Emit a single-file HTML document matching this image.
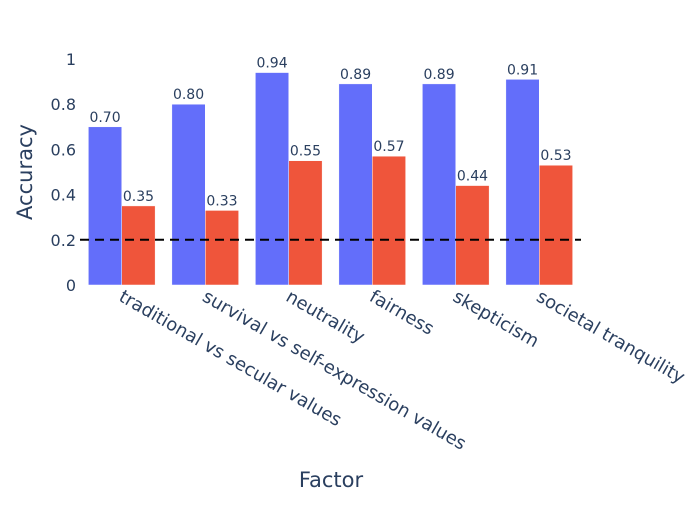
<!DOCTYPE html>
<html><head><meta charset="utf-8"><style>body{margin:0;background:#fff}svg{font-family:"DejaVu Sans","Liberation Sans",sans-serif;}</style></head>
<body>
<svg id="chart" width="700" height="500" xmlns="http://www.w3.org/2000/svg">
<rect width="700" height="500" fill="#fff"/>
<g id="yticks"></g>
<g id="bars"></g>
<g id="labels"></g>
<g id="xticks"></g>
<line id="baseline" stroke="#000" stroke-width="2" stroke-dasharray="9,6"/>
<text transform="translate(32,172) rotate(-90)" text-anchor="middle" font-size="21" fill="#2a3f5f">Accuracy</text>
<text x="331" y="487" text-anchor="middle" font-size="21" fill="#2a3f5f">Factor</text>
</svg>
<script>
const categories=["traditional vs secular values","survival vs self-expression values","neutrality","fairness","skepticism","societal tranquility"];
const seriesA=[0.70,0.80,0.94,0.89,0.89,0.91];
const seriesB=[0.35,0.33,0.55,0.57,0.44,0.53];
const yTicks=[0,0.2,0.4,0.6,0.8,1];
const yTickLabels=["0","0.2","0.4","0.6","0.8","1"];
const baselineValue=0.2;
const NS="http://www.w3.org/2000/svg";
const x0=80,x1=581,y0=285,yTop=59;
const y=v=>y0-(y0-yTop)*v;
const band=(x1-x0)/categories.length;
const cx=i=>x0+band*(i+0.5);
const bw=band*0.8/2;
function mk(t,a,p){const e=document.createElementNS(NS,t);for(const k in a)e.setAttribute(k,a[k]);p.appendChild(e);return e;}
const yt=document.getElementById('yticks');
yTicks.forEach((v,i)=>{const t=mk('text',{x:76,y:y(v)+6,'text-anchor':'end','font-size':16,fill:'#2a3f5f'},yt);


t.textContent=yTickLabels[i];});
const bars=document.getElementById('bars'),labels=document.getElementById('labels'),xt=document.getElementById('xticks');
categories.forEach((c,i)=>{
[[seriesA,'#636efa',-1],[seriesB,'#ef553b',0]].forEach(([s,col,off])=>{
const bx=cx(i)+off*bw;
const r=mk('rect',{x:bx,y:y(s[i]),width:bw,height:y0-y(s[i]),fill:col,stroke:'#fff','stroke-width':0.5},bars);


const t=mk('text',{x:bx+bw/2,y:y(s[i])-5,'text-anchor':'middle','font-size':14,fill:'#2a3f5f'},labels);


t.textContent=s[i].toFixed(2);
});
const l=mk('text',{transform:`translate(${cx(i)-4},${300}) rotate(30)`,'font-size':18,fill:'#2a3f5f'},xt);


l.textContent=c;
});
const bl=document.getElementById('baseline');
bl.setAttribute('x1',x0);bl.setAttribute('x2',x1);bl.setAttribute('y1',y(baselineValue));bl.setAttribute('y2',y(baselineValue));
</script>
</body></html>
